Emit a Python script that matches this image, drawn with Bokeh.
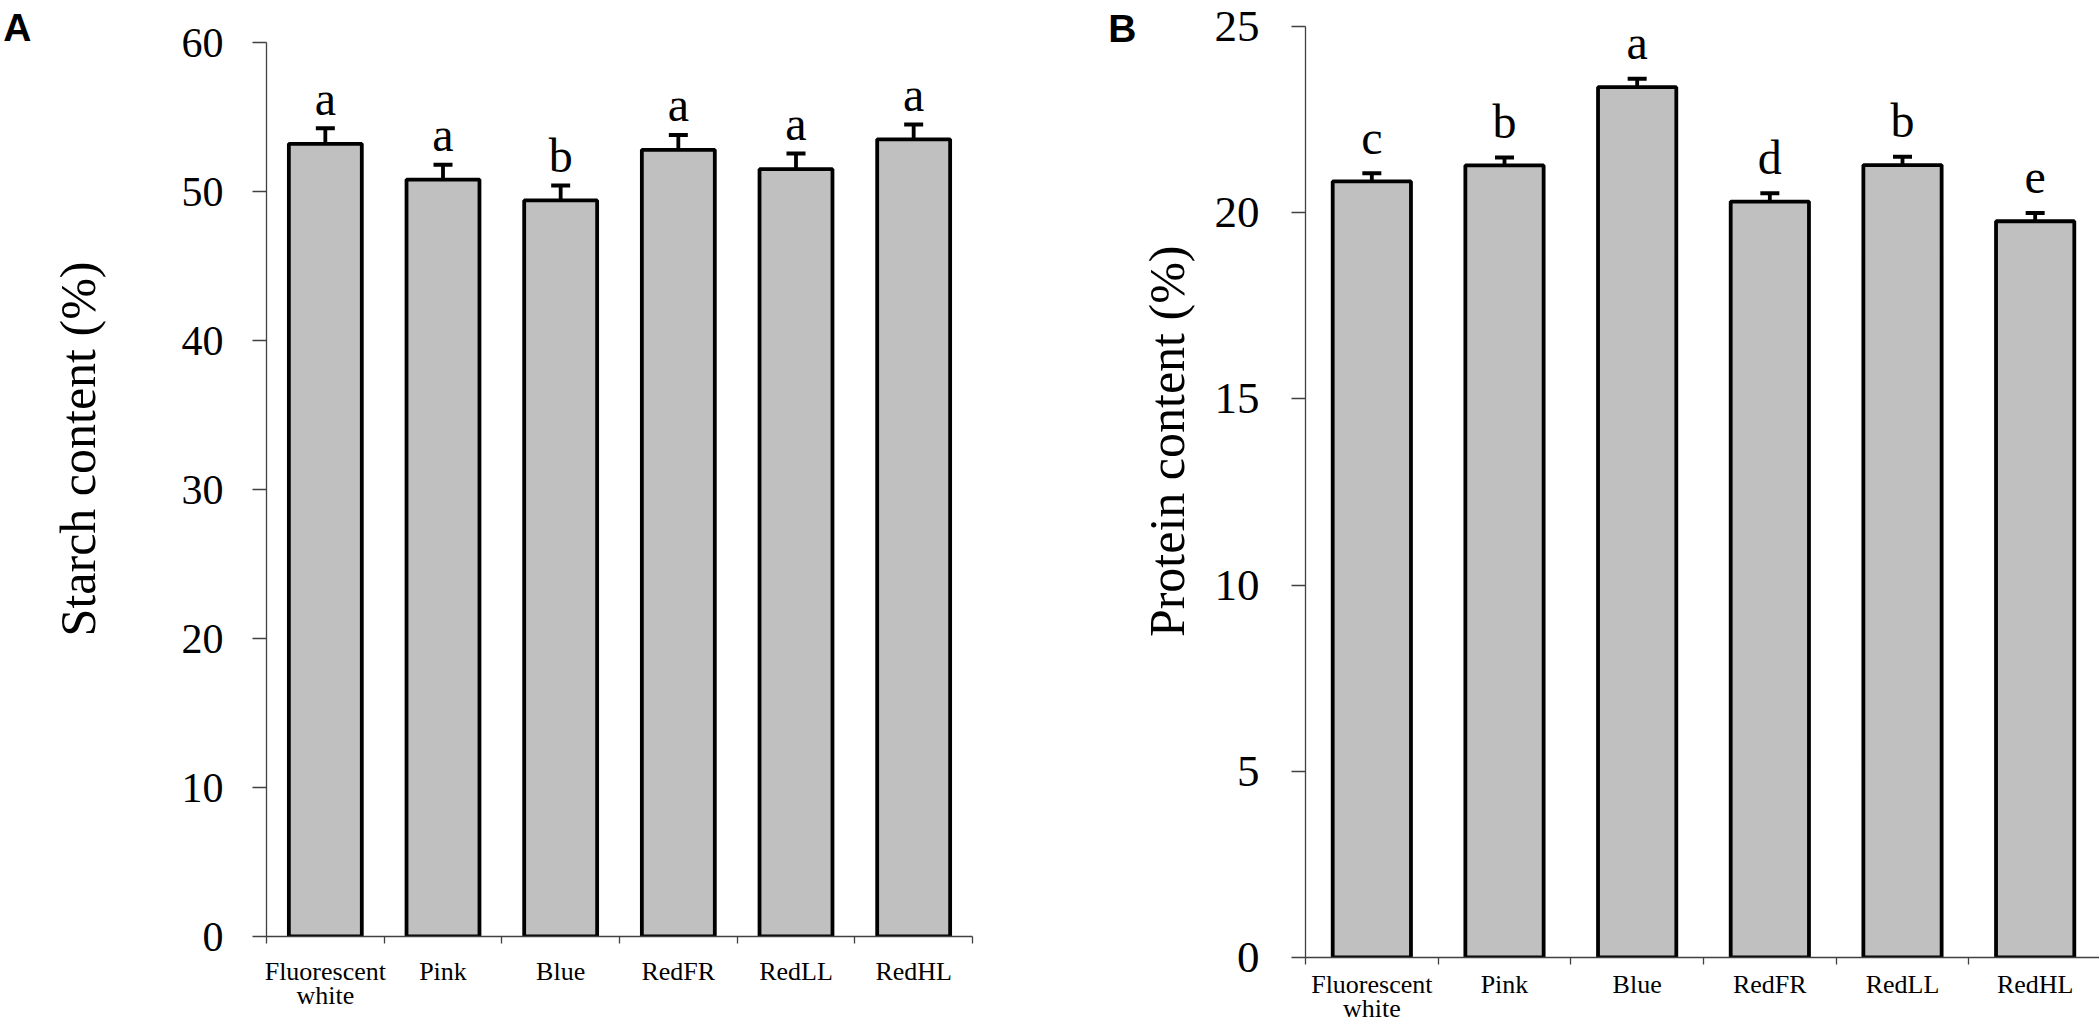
from bokeh.plotting import figure
from bokeh.models import FixedTicker, Whisker, TeeHead, ColumnDataSource, Range1d, LinearAxis
from bokeh.layouts import row
from bokeh.core.properties import value
from bokeh.embed import file_html
from bokeh.resources import INLINE

# ---------------- data ----------------
categories = ["Fluorescent\nwhite", "Pink", "Blue", "RedFR", "RedLL", "RedHL"]

starch = [53.2, 50.8, 49.4, 52.8, 51.5, 53.5]
starch_err = [1.05, 1.0, 1.0, 1.0, 1.05, 1.0]
starch_letters = ["a", "a", "b", "a", "a", "a"]
starch_ticks = [0, 10, 20, 30, 40, 50, 60]

protein = [20.84, 21.27, 23.37, 20.30, 21.28, 19.77]
protein_err = [0.22, 0.21, 0.23, 0.22, 0.22, 0.22]
protein_letters = ["c", "b", "a", "d", "b", "e"]
protein_ticks = [0, 5, 10, 15, 20, 25]

SERIF = "Liberation Serif"
SANS = "Liberation Sans"


def label_axis(text, at, span, standoff, font, size, style, orientation):
    """An axis with no line and no tick marks that only carries one text label."""
    return LinearAxis(ticker=FixedTicker(ticks=[at], minor_ticks=[]),
                      bounds=(at - span, at + span),
                      major_label_overrides={at: text},
                      axis_line_color=None, major_tick_out=0, major_tick_in=0,
                      minor_tick_out=0, minor_tick_in=0,
                      major_label_standoff=standoff,
                      major_label_text_font=font, major_label_text_font_size=size,
                      major_label_text_font_style=style,
                      major_label_text_color="black",
                      major_label_orientation=orientation)


def make_panel(vals, errs, letters, ticks, ymax, yview, frame_w, frame_h, mb_left,
               mb_right, bar_w, ytick_size, ytick_standoff, xlab_standoff, ylabel,
               ylabel_at, ylabel_standoff, letter_gap_px, panel_letter, letter_at,
               letter_standoff):
    n = len(categories)
    centers = [i + 0.5 for i in range(n)]
    p = figure(frame_width=frame_w, frame_height=frame_h,
               x_range=Range1d(0, n), y_range=Range1d(0, yview),
               output_backend="svg", toolbar_location=None,
               min_border_left=mb_left, min_border_top=26,
               min_border_right=mb_right, min_border_bottom=70)
    p.title = None
    p.outline_line_color = None
    p.xgrid.visible = False
    p.ygrid.visible = False
    p.background_fill_color = "white"
    p.border_fill_color = "white"

    units_per_px = yview / frame_h
    upper = [v + e for v, e in zip(vals, errs)]
    src = ColumnDataSource(dict(
        x=centers, top=vals, upper=upper,
        lower=[v - e for v, e in zip(vals, errs)],
        ltr_y=[u + letter_gap_px * units_per_px for u in upper],
        letters=letters))

    p.vbar(x="x", top="top", bottom=0, width=bar_w, source=src,
           fill_color="#C0C0C0", line_color="black", line_width=3.8)

    p.add_layout(Whisker(base="x", upper="upper", lower="lower", source=src,
                         line_color="black", line_width=3.8,
                         upper_head=TeeHead(size=19, line_width=4, line_color="black"),
                         lower_head=TeeHead(size=19, line_width=4, line_color="black")))

    p.text(x="x", y="ltr_y", text="letters", source=src,
           text_align=value("center"), text_baseline=value("alphabetic"),
           text_font=value(SERIF), text_font_size=value("48px"), text_color="black")

    # y axis (line limited to the value scale)
    ya = p.yaxis[0]
    ya.bounds = (0, ymax)
    ya.ticker = FixedTicker(ticks=ticks, minor_ticks=[])
    ya.major_tick_out = 14
    ya.major_tick_in = 0
    ya.minor_tick_out = 0
    ya.minor_tick_in = 0
    ya.axis_line_color = "#404040"
    ya.axis_line_width = 1.3
    ya.major_tick_line_color = "#404040"
    ya.major_tick_line_width = 1.3
    ya.major_label_text_font = SERIF
    ya.major_label_text_font_size = ytick_size
    ya.major_label_text_color = "black"
    ya.major_label_standoff = ytick_standoff

    # x axis: labels at category centres, tick marks at category boundaries
    xa = p.xaxis[0]
    xa.ticker = FixedTicker(ticks=centers, minor_ticks=list(range(n + 1)))
    xa.major_label_overrides = {c: lab for c, lab in zip(centers, categories)}
    xa.major_tick_out = 0
    xa.major_tick_in = 0
    xa.minor_tick_out = 7
    xa.minor_tick_in = 0
    xa.axis_line_color = "#404040"
    xa.axis_line_width = 1.3
    xa.minor_tick_line_color = "#404040"
    xa.minor_tick_line_width = 1.3
    xa.major_label_text_font = SERIF
    xa.major_label_text_font_size = "26px"
    xa.major_label_text_line_height = 0.85
    xa.major_label_text_color = "black"
    xa.major_label_standoff = xlab_standoff

    # y-axis title and panel letter, each carried by a label-only axis at the left
    p.add_layout(label_axis(ylabel, ylabel_at, 0.5, ylabel_standoff, SERIF, "50px",
                            "normal", "vertical"), "left")
    p.add_layout(label_axis(panel_letter, letter_at, 0.05, letter_standoff, SANS, "39px",
                            "bold", "horizontal"), "left")
    return p


pA = make_panel(starch, starch_err, starch_letters, starch_ticks, 60, 61.074,
                frame_w=706, frame_h=910, mb_left=261, mb_right=133,
                bar_w=0.62, ytick_size="42px", ytick_standoff=29, xlab_standoff=13,
                ylabel="Starch content (%)", ylabel_at=32.72,
                ylabel_standoff=72, letter_gap_px=30, panel_letter="A",
                letter_at=61.0, letter_standoff=16)

pB = make_panel(protein, protein_err, protein_letters, protein_ticks, 25, 25,
                frame_w=796, frame_h=931, mb_left=196, mb_right=5,
                bar_w=0.59, ytick_size="45px", ytick_standoff=32, xlab_standoff=5,
                ylabel="Protein content (%)", ylabel_at=13.86,
                ylabel_standoff=16, letter_gap_px=36, panel_letter="B",
                letter_at=24.95, letter_standoff=0)

layout = row(pA, pB)
open("out.html", "w").write(file_html(layout, INLINE))
